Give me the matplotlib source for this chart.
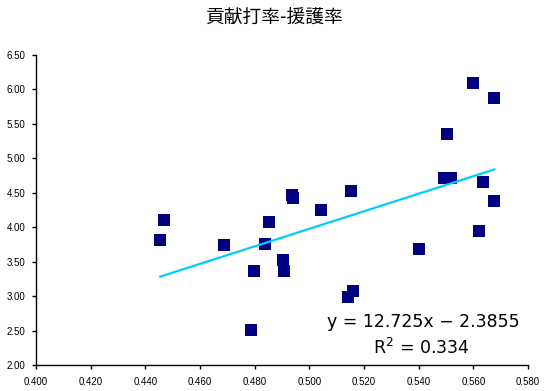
import matplotlib
matplotlib.use("Agg")
import matplotlib.pyplot as plt
import numpy as np

title = "貢献打率-援護率"

# contribution batting average (x) vs run support (y)
x_vals = [0.5600, 0.5677, 0.5502, 0.5491, 0.5517, 0.5637, 0.5677, 0.5620,
          0.5401, 0.5151, 0.5041, 0.4470, 0.4455, 0.4686, 0.4935, 0.4939,
          0.4854, 0.4836, 0.4902, 0.4909, 0.4796, 0.4785, 0.5158, 0.5143]
y_vals = [6.09, 5.87, 5.36, 4.72, 4.72, 4.65, 4.38, 3.95,
          3.68, 4.53, 4.25, 4.11, 3.82, 3.74, 4.47, 4.43,
          4.08, 3.76, 3.52, 3.36, 3.36, 2.51, 3.08, 2.99]

slope = 12.725
intercept = -2.3855
r2 = 0.334

x_ticks = [0.40, 0.42, 0.44, 0.46, 0.48, 0.50, 0.52, 0.54, 0.56, 0.58]
y_ticks = [2.0, 2.5, 3.0, 3.5, 4.0, 4.5, 5.0, 5.5, 6.0, 6.5]

fig = plt.figure(figsize=(5.49, 3.91), dpi=100)
ax = fig.add_axes([36/549, 1-365/391, (528-36)/549, (365-55)/391])

ax.scatter(x_vals, y_vals, marker='s', s=64, color='#000080', zorder=3, linewidths=0)

xl = np.array([min(x_vals), max(x_vals)])
ax.plot(xl, slope*xl + intercept, color='#00CCFF', lw=1.6, zorder=4)

ax.set_xlim(0.40, 0.58)
ax.set_ylim(2.0, 6.5)
ax.set_xticks(x_ticks)
ax.set_yticks(y_ticks)
ax.set_xticklabels([f"{v:.3f}" for v in x_ticks])
ax.set_yticklabels([f"{v:.2f}" for v in y_ticks])
for lab in ax.get_xticklabels() + ax.get_yticklabels():
    lab.set_fontfamily('Liberation Sans')
    lab.set_fontsize(7)
ax.tick_params(direction='out', length=3, width=1, colors='black')
ax.tick_params(axis='x', pad=5.5)
ax.tick_params(axis='y', pad=4.5)
for s in ['top', 'right']:
    ax.spines[s].set_visible(False)
for s in ['left', 'bottom']:
    ax.spines[s].set_linewidth(1)
    ax.spines[s].set_color('black')

fig.text(423/549, 1-322/391, f"y = {slope}x − {abs(intercept)}", ha='center', va='center',
         fontsize=12.5, family='DejaVu Sans')
fig.text(421/549, 1-348/391, f"R$^2$ = {r2}", ha='center', va='center',
         fontsize=12.5, family='DejaVu Sans')

fig.text(275/549, 1-18/391, title, ha='center', va='center', fontsize=13.5,
         family=['Noto Sans CJK JP', 'DejaVu Sans'])

fig.savefig("out.png", dpi=100)
